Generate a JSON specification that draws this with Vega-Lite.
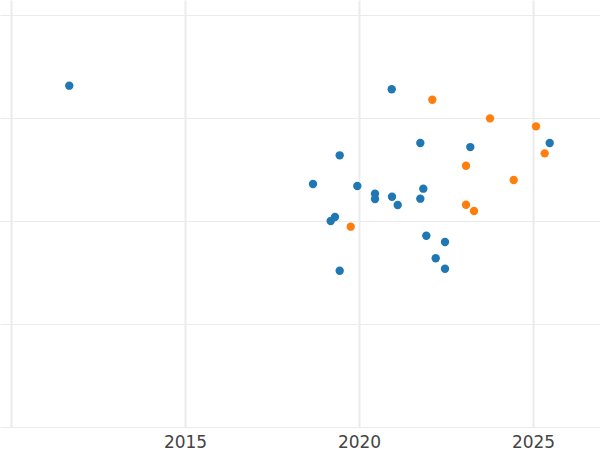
{
  "$schema": "https://vega.github.io/schema/vega-lite/v6.json",
  "width": 600,
  "height": 427,
  "padding": {"left": 0, "top": 0, "right": 0, "bottom": 23},
  "autosize": {"type": "none"},
  "background": "white",
  "config": {"view": {"stroke": null}},
  "data": {"values": [
    {"year": 2011.675, "value": 3.314, "group": "A"},
    {"year": 2020.940, "value": 3.279, "group": "A"},
    {"year": 2025.480, "value": 2.757, "group": "A"},
    {"year": 2021.762, "value": 2.757, "group": "A"},
    {"year": 2023.198, "value": 2.718, "group": "A"},
    {"year": 2019.445, "value": 2.638, "group": "A"},
    {"year": 2018.678, "value": 2.359, "group": "A"},
    {"year": 2019.951, "value": 2.340, "group": "A"},
    {"year": 2020.460, "value": 2.265, "group": "A"},
    {"year": 2020.460, "value": 2.214, "group": "A"},
    {"year": 2020.948, "value": 2.236, "group": "A"},
    {"year": 2021.848, "value": 2.314, "group": "A"},
    {"year": 2021.762, "value": 2.217, "group": "A"},
    {"year": 2021.112, "value": 2.155, "group": "A"},
    {"year": 2019.310, "value": 2.039, "group": "A"},
    {"year": 2019.187, "value": 2.000, "group": "A"},
    {"year": 2021.934, "value": 1.857, "group": "A"},
    {"year": 2022.471, "value": 1.796, "group": "A"},
    {"year": 2022.204, "value": 1.638, "group": "A"},
    {"year": 2022.471, "value": 1.537, "group": "A"},
    {"year": 2019.445, "value": 1.517, "group": "A"},
    {"year": 2022.106, "value": 3.178, "group": "B"},
    {"year": 2023.764, "value": 2.997, "group": "B"},
    {"year": 2025.086, "value": 2.919, "group": "B"},
    {"year": 2025.336, "value": 2.657, "group": "B"},
    {"year": 2023.075, "value": 2.537, "group": "B"},
    {"year": 2024.445, "value": 2.398, "group": "B"},
    {"year": 2023.075, "value": 2.158, "group": "B"},
    {"year": 2023.305, "value": 2.097, "group": "B"},
    {"year": 2019.762, "value": 1.945, "group": "B"}
  ]},
  "mark": {"type": "circle", "size": 70, "opacity": 1},
  "encoding": {
    "x": {
      "field": "year", "type": "quantitative",
      "scale": {"domain": [2009.684, 2026.925], "nice": false, "zero": false},
      "axis": {
        "title": null, "values": [2010, 2015, 2020, 2025], "format": "d",
        "labelExpr": "datum.value == 2010 ? '' : datum.label",
        "domain": false, "ticks": false, "grid": true, "gridColor": "#ebebeb", "gridWidth": 2,
        "labelFont": "DejaVu Sans", "labelFontSize": 17, "labelColor": "#444444", "labelPadding": 7,
        "labelOverlap": false
      }
    },
    "y": {
      "field": "value", "type": "quantitative",
      "scale": {"domain": [0, 4.146], "nice": false, "zero": false},
      "axis": {
        "title": null, "values": [0, 1, 2, 3, 4], "labels": false, "domain": false, "ticks": false,
        "grid": true, "gridColor": "#ebebeb", "gridWidth": 1
      }
    },
    "color": {
      "field": "group", "type": "nominal",
      "scale": {"domain": ["A", "B"], "range": ["#1f77b4", "#ff7f0e"]},
      "legend": null
    }
  }
}
